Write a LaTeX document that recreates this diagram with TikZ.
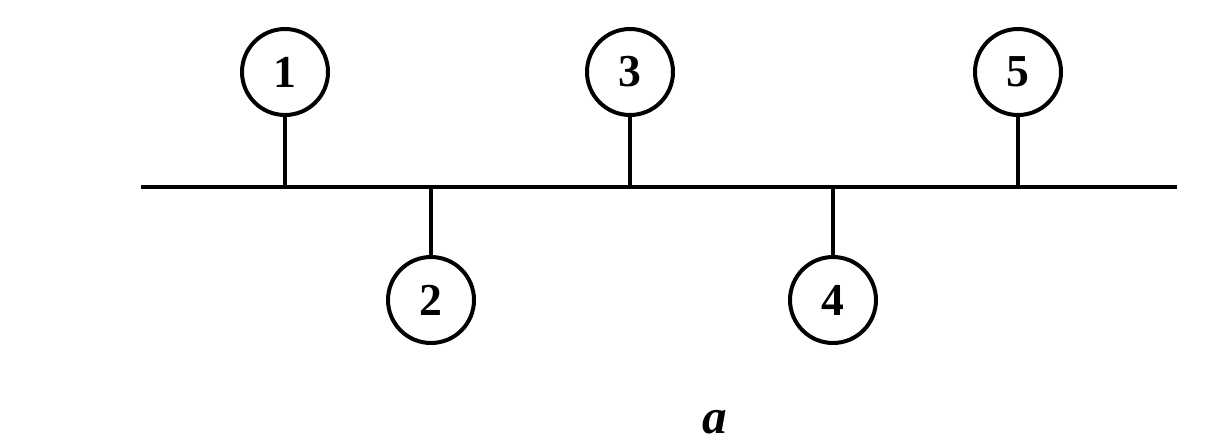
\documentclass[tikz,border=0pt]{standalone}
\usepackage{fontspec}
\setmainfont{Liberation Serif}
\usetikzlibrary{positioning}

\begin{document}
\begin{tikzpicture}[x=1cm,y=1cm]
\tikzset{
  stationnode/.style={circle,draw,line width=0.08cm,minimum size=1.72cm,inner sep=0pt,font=\fontsize{26}{28}\selectfont\bfseries},
  busline/.style={line width=0.08cm},
  stem/.style={line width=0.07cm}
}
\useasboundingbox (0,0) rectangle (24.4,8.88);
\coordinate (bus_l) at (2.82,5.14);
\coordinate (bus_r) at (23.54,5.14);
\node[stationnode] (n_1) at (5.70,7.44) {1};
\node[stationnode] (n_2) at (8.62,2.88) {2};
\node[stationnode] (n_3) at (12.60,7.44) {3};
\node[stationnode] (n_4) at (16.66,2.88) {4};
\node[stationnode] (n_5) at (20.36,7.44) {5};
\node[font=\fontsize{28}{30}\selectfont\bfseries\itshape] (lbl_a) at (14.30,0.44) {a};
\draw[busline] (bus_l) -- (bus_r);
\draw[stem] (n_1) -- (n_1 |- bus_l);
\draw[stem] (n_2) -- (n_2 |- bus_l);
\draw[stem] (n_3) -- (n_3 |- bus_l);
\draw[stem] (n_4) -- (n_4 |- bus_l);
\draw[stem] (n_5) -- (n_5 |- bus_l);
\end{tikzpicture}
\end{document}
